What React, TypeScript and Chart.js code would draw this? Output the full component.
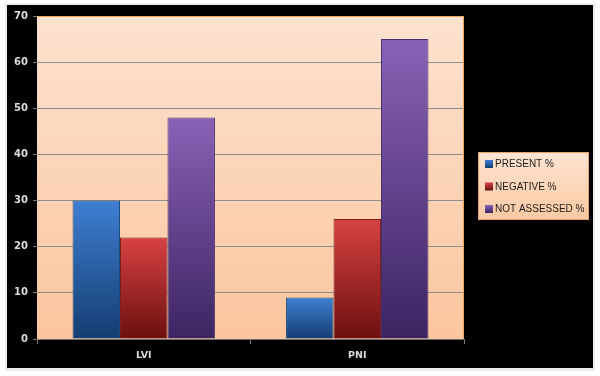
import React, { useEffect, useRef } from "react";
import { Chart, registerables } from "chart.js";

Chart.register(...registerables);

const categories = ["LVI", "PNI"];
const seriesLabels = ["PRESENT %", "NEGATIVE %", "NOT ASSESSED %"];
const presentValues = [30, 9];
const negativeValues = [22, 26];
const notAssessedValues = [48, 65];
const yMin = 0;
const yMax = 70;
const yStep = 10;

const palette = [
  { top: "#3f7fd2", bottom: "#133d72", border: "#1c4a80", swatch: "#2a62ac" },
  { top: "#d74242", bottom: "#6c0f0f", border: "#7a1a1a", swatch: "#b02424" },
  { top: "#8962b6", bottom: "#3c2462", border: "#48306e", swatch: "#62409a" },
];

const LEFT = 37;
const RIGHT = 464;
const TOP = 16;
const BOTTOM = 339;
const W = 600;
const H = 376;

function barGradient(idx: number) {
  return (ctx: any) => {
    const chart = ctx.chart;
    const p = palette[idx];
    if (!chart.chartArea || ctx.type !== "data") return p.swatch;
    const y = chart.scales.y;
    const top = y.getPixelForValue(ctx.raw);
    const bottom = y.getPixelForValue(0);
    if (!isFinite(top) || !isFinite(bottom) || bottom - top < 1) return p.swatch;
    const g = chart.ctx.createLinearGradient(0, top, 0, bottom);
    g.addColorStop(0, p.top);
    g.addColorStop(1, p.bottom);
    return g;
  };
}

const backgroundPlugin = {
  id: "bgPlugin",
  beforeDraw(chart: any) {
    const c = chart.ctx;
    const a = chart.chartArea;
    c.save();
    c.fillStyle = "#ffffff";
    c.fillRect(0, 0, W, H);
    c.fillStyle = "#ececec";
    c.fillRect(5, 3, 590, 368);
    c.fillStyle = "#000000";
    c.fillRect(7, 5, 586, 363);
    const g = c.createLinearGradient(0, a.top, 0, a.bottom);
    g.addColorStop(0, "#fde2d0");
    g.addColorStop(1, "#fbc69e");
    c.fillStyle = g;
    c.fillRect(a.left, a.top, a.right - a.left, a.bottom - a.top);
    c.restore();
  },
  beforeDatasetsDraw(chart: any) {
    const c = chart.ctx;
    const a = chart.chartArea;
    c.save();
    c.strokeStyle = "#f0a25e";
    c.lineWidth = 1;
    c.beginPath();
    c.moveTo(a.left, a.top + 0.5);
    c.lineTo(a.right - 0.5, a.top + 0.5);
    c.lineTo(a.right - 0.5, a.bottom);
    c.stroke();
    c.restore();
  },
  afterDraw(chart: any) {
    const c = chart.ctx;
    c.save();
    const bx = 478, by = 152, bw = 111, bh = 68;
    const g = c.createLinearGradient(0, by, 0, by + bh);
    g.addColorStop(0, "#fde4d2");
    g.addColorStop(1, "#fcc9a2");
    c.fillStyle = g;
    c.fillRect(bx, by, bw, bh);
    c.strokeStyle = "#e8a06a";
    c.lineWidth = 1;
    c.strokeRect(bx + 0.5, by + 0.5, bw - 1, bh - 1);
    const ys = [164, 186.5, 209];
    chart.data.datasets.forEach((ds: any, i: number) => {
      const p = palette[i];
      const sy = ys[i];
      const sg = c.createLinearGradient(0, sy - 4, 0, sy + 4);
      sg.addColorStop(0, p.top);
      sg.addColorStop(1, p.bottom);
      c.fillStyle = sg;
      c.fillRect(485, sy - 4, 8, 8);
      c.fillStyle = "#1a1a1a";
      c.font = "10px 'Liberation Sans', Arial, sans-serif";
      c.textBaseline = "middle";
      c.textAlign = "left";
      c.fillText(ds.label, 495, sy + 0.5);
    });
    c.restore();
  },
};

export default function App() {
  const ref = useRef<HTMLCanvasElement | null>(null);
  useEffect(() => {
    if (!ref.current) return;
    const chart = new Chart(ref.current, {
      type: "bar",
      data: {
        labels: categories,
        datasets: [presentValues, negativeValues, notAssessedValues].map((vals, i) => ({
          label: seriesLabels[i],
          data: vals,
          backgroundColor: barGradient(i),
          borderColor: palette[i].border,
          borderWidth: 1,
          categoryPercentage: 0.667,
          barPercentage: 1.0,
        })),
      },
      options: {
        responsive: false,
        animation: false,
        events: [],
        layout: { padding: { left: 0, right: W - RIGHT, top: TOP, bottom: 0 } },
        plugins: {
          legend: { display: false },
          tooltip: { enabled: false },
        },
        scales: {
          x: {
            afterFit: (s: any) => { s.height = H - BOTTOM; },
            grid: {
              offset: true,
              drawOnChartArea: false,
              drawTicks: true,
              tickLength: 5,
              tickColor: "#7a7a7a",
            },
            border: { display: true, color: "#6a6a6a", width: 1 },
            ticks: {
              color: "#dcdcdc",
              font: { family: "'DejaVu Sans', Verdana, sans-serif", size: 9.5, weight: "bold" },
              padding: 6,
            },
          },
          y: {
            min: yMin,
            max: yMax,
            afterFit: (s: any) => { s.width = LEFT; },
            grid: {
              color: (c: any) => (c.tick && c.tick.value === yMax ? "rgba(0,0,0,0)" : "#8e8e8e"),
              lineWidth: 1,
              drawTicks: true,
              tickLength: 4,
              tickColor: "#7a7a7a",
            },
            border: { display: false },
            ticks: {
              stepSize: yStep,
              color: "#dcdcdc",
              font: { family: "'DejaVu Sans', Verdana, sans-serif", size: 10, weight: "bold" },
              padding: 5,
            },
          },
        },
      },
      plugins: [backgroundPlugin],
    } as any);
    return () => chart.destroy();
  }, []);
  return (
    <div style={{ position: "absolute", left: 0, top: 0, width: W, height: H }}>
      <canvas ref={ref} width={W} height={H} style={{ display: "block" }} />
    </div>
  );
}
